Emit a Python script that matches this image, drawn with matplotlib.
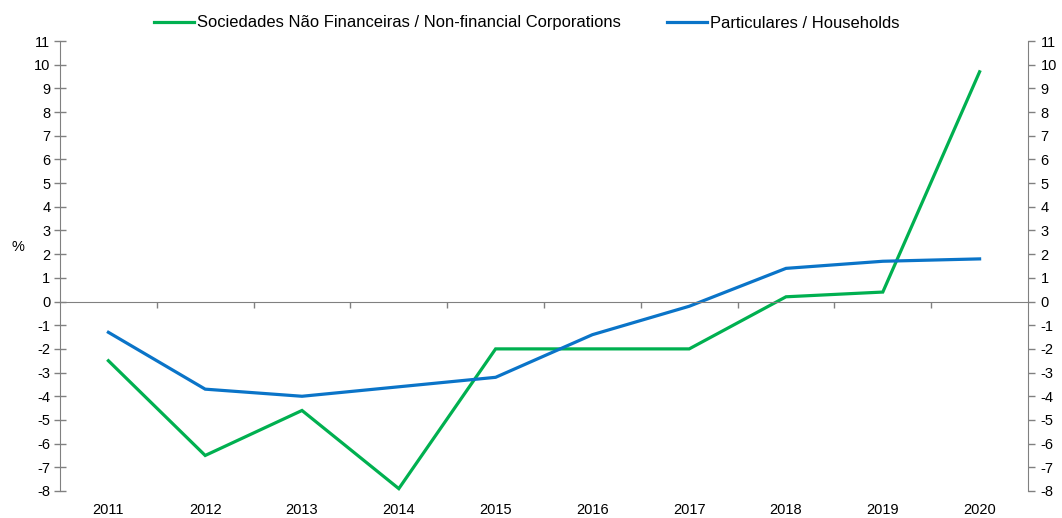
import matplotlib
matplotlib.use("Agg")
import matplotlib.pyplot as plt
import numpy as np

years = ["2011", "2012", "2013", "2014", "2015", "2016", "2017", "2018", "2019", "2020"]
nfc = [-2.5, -6.5, -4.6, -7.9, -2.0, -2.0, -2.0, 0.2, 0.4, 9.7]
households = [-1.3, -3.7, -4.0, -3.6, -3.2, -1.4, -0.2, 1.4, 1.7, 1.8]
label_nfc = "Sociedades Não Financeiras / Non-financial Corporations"
label_hh = "Particulares / Households"
yticks = list(range(-8, 12))

plt.rcParams['font.family'] = ['Liberation Sans', 'DejaVu Sans']
plt.rcParams['axes.unicode_minus'] = False
GREEN = "#00B050"
BLUE = "#0A74C8"
GRAY = "#808080"

fig = plt.figure(figsize=(10.62, 5.18), dpi=100)
W, H = 1062, 518
ax = fig.add_axes([60 / W, 1 - 491 / H, (1028 - 60) / W, (491 - 41) / H])

x = np.arange(len(years)) + 0.5
ax.plot(x, nfc, color=GREEN, lw=2.3, label=label_nfc, solid_joinstyle='miter')
ax.plot(x, households, color=BLUE, lw=2.3, label=label_hh, solid_joinstyle='miter')

ax.set_xlim(0, len(years))
ax.set_ylim(-8, 11)
ax.set_yticks(yticks)
ax.tick_params(axis='y', direction='inout', length=8, width=1, color=GRAY, labelsize=10.5, pad=3)

ax.spines['top'].set_visible(False)
ax.spines['right'].set_visible(False)
ax.spines['left'].set_color(GRAY)
ax.spines['bottom'].set_position(('data', 0))
ax.spines['bottom'].set_color(GRAY)
ax.set_xticks(np.arange(1, len(years)))
ax.tick_params(axis='x', direction='out', length=4, width=1, color=GRAY, labelbottom=False)

sec = ax.secondary_xaxis(0.0)
sec.set_xticks(x)
sec.set_xticklabels(years)
sec.spines['bottom'].set_visible(False)
sec.tick_params(length=0, labelsize=10.5, pad=9)

ax2 = ax.twinx()
ax2.set_ylim(-8, 11)
ax2.set_yticks(yticks)
for s in ['top', 'left', 'bottom']:
    ax2.spines[s].set_visible(False)
ax2.spines['right'].set_color(GRAY)
ax2.tick_params(axis='y', direction='out', length=5, width=1, color=GRAY, labelsize=10.5, pad=4)

ax.set_ylabel('%', rotation=0, fontsize=10.5, va='center', ha='center')
ax.yaxis.set_label_coords((18 - 60) / 968, (2.3 + 8) / 19)

fig.legend(loc='center', bbox_to_anchor=(527 / W, 1 - 23 / H), ncol=2, frameon=False,
           fontsize=11.9, handlelength=2.4, handletextpad=0.2, columnspacing=2.8)

fig.savefig("out.png", dpi=100)
